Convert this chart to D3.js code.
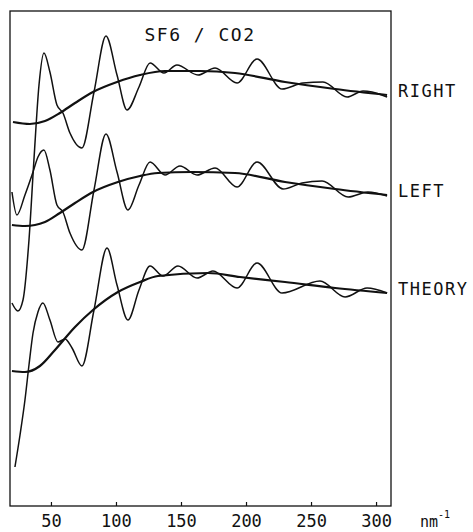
<!DOCTYPE html>
<html>
<head>
<meta charset="utf-8">
<script src="https://cdn.jsdelivr.net/npm/d3@7"></script>
<style>
	body { margin: 0; background: #fff; }
	svg { display: block; }
	text { font-family: "DejaVu Sans Mono", monospace; fill: #111; }
	.frame { fill: none; stroke: #111; stroke-width: 1.3px; }
	.osc { fill: none; stroke: #111; stroke-width: 1.5px; }
	.smooth { fill: none; stroke: #111; stroke-width: 2.2px; }
	.axis line { stroke: #111; stroke-width: 1.2px; }
	.axis path { display: none; }
</style>
</head>
<body>
<div id="chart"></div>
<script>
		var width = 473, height = 532;
		var margin = {top: 11, right: 82, bottom: 26, left: 10};

		// s (nm^-1) vs offset intensity
		const rightOsc = [[20,203],[24.6,195],[28.5,206],[33.1,266],[36.9,346],[40.8,421],[44.6,453],
			[49.2,434],[54.6,401],[59.2,393],[64.6,373],[73.8,358],[83.1,414],[92.3,470],[100.8,431],
			[108.5,396],[117.7,419],[126.2,443],[136.9,433],[146.9,441],[163.1,431],[176.2,438],
			[193.1,423],[208.5,447],[227.7,417],[243.8,423],[259.2,424],[277.7,409],[290,415],
			[296.9,414],[308.5,409]];
		const rightSmooth = [[20.8,384],[33.8,382],[45.4,385],[56.9,393],[68.5,403],[82.3,414],
			[100.8,424],[118.5,431],[137.7,435],[164.6,435],[191.5,433],[230,424],[268.5,417],[308.5,411]];

		const leftOsc = [[20,314],[23.8,291],[30,311],[36.2,334],[40,349],[44.6,356],[49.2,336],
			[54.6,301],[59.2,294],[64.6,273],[73.8,256],[83.1,316],[92.3,372],[100.8,334],[109.2,296],
			[117.7,321],[126.2,344],[137.7,331],[149.2,340],[162.3,331],[176.2,338],[193.1,319],
			[208.5,344],[228.5,317],[243.1,323],[258.5,325],[278.5,309],[293.8,314],[308.5,310]];
		const leftSmooth = [[20,281],[30,280],[45.4,284],[56.9,293],[68.5,303],[82.3,314],[101.5,324],
			[118.5,330],[132.3,333],[158.5,334],[191.5,333],[230,324],[268.5,317],[308.5,311]];

		const theoryOsc = [[22.3,39],[26.2,71],[30,106],[33.1,141],[36.2,173],[40,194],[43.8,203],
			[49.2,186],[55.4,164],[60.8,167],[66.2,158],[73.8,140],[83.1,196],[93.1,258],[100.8,221],
			[109.2,186],[117.7,216],[126.2,240],[136.2,230],[147.7,240],[162.3,228],[174.6,235],
			[193.1,218],[208.5,243],[227.7,213],[256.9,225],[276.2,209],[293.1,218],[308.5,213]];
		const theorySmooth = [[20,135],[30,134],[41.5,140],[53.1,156],[68.5,179],[82.3,196],[101.5,214],
			[118.5,224],[132.3,230],[170.8,233],[195.4,229],[230,224],[268.5,218],[308.5,213]];

		const curveNames = ["RIGHT", "LEFT", "THEORY"];
		const xTicks = [50, 100, 150, 200, 250, 300];
		const title = "SF6 / CO2";

		var pairs = [
			{name: curveNames[0], osc: rightOsc, smooth: rightSmooth},
			{name: curveNames[1], osc: leftOsc, smooth: leftSmooth},
			{name: curveNames[2], osc: theoryOsc, smooth: theorySmooth}
		];

		var svg = d3.select('#chart')
			.append('svg')
			.attr('width', width)
			.attr('height', height);

		var scaleX = d3.scaleLinear()
			.domain([18.5, 311.5])
			.range([margin.left, width - margin.right]);

		var scaleY = d3.scaleLinear()
			.domain([0, 495])
			.range([height - margin.bottom, margin.top]);

		var line = d3.line()
			.x(function(d){ return scaleX(d[0]); })
			.y(function(d){ return scaleY(d[1]); })
			.curve(d3.curveMonotoneX);

		svg.append('rect')
			.attr('class', 'frame')
			.attr('x', margin.left)
			.attr('y', margin.top)
			.attr('width', width - margin.right - margin.left)
			.attr('height', height - margin.bottom - margin.top);

		var xAxis = d3.axisBottom(scaleX)
			.tickValues(xTicks)
			.tickSize(-4)
			.tickPadding(9)
			.tickFormat(d3.format('d'));

		svg.append('g')
			.attr('class', 'axis')
			.attr('transform', 'translate(0,' + (height - margin.bottom) + ')')
			.call(xAxis)
			.selectAll('text')
			.style('font-size', '17px')
			.style('font-family', '"DejaVu Sans Mono", monospace');

		var unit = svg.append('text')
			.attr('x', 420)
			.attr('y', 527)
			.style('font-size', '15px');
		unit.append('tspan').text('nm');
		unit.append('tspan')
			.attr('dy', -9)
			.style('font-size', '10px')
			.text('-1');

		svg.append('text')
			.attr('x', 200)
			.attr('y', 41)
			.attr('text-anchor', 'middle')
			.style('font-size', '18px')
			.style('letter-spacing', '1.5px')
			.text(title);

		pairs.forEach(function(p){
			svg.append('path')
				.attr('class', 'smooth')
				.attr('d', line(p.smooth));
			svg.append('path')
				.attr('class', 'osc')
				.attr('d', line(p.osc));

			var last = p.smooth[p.smooth.length - 1];
			svg.append('text')
				.attr('x', width - margin.right + 7)
				.attr('y', scaleY(last[1]) + 2)
				.style('font-size', '17px')
				.style('letter-spacing', '1.5px')
				.text(p.name);
		});
</script>
</body>
</html>
